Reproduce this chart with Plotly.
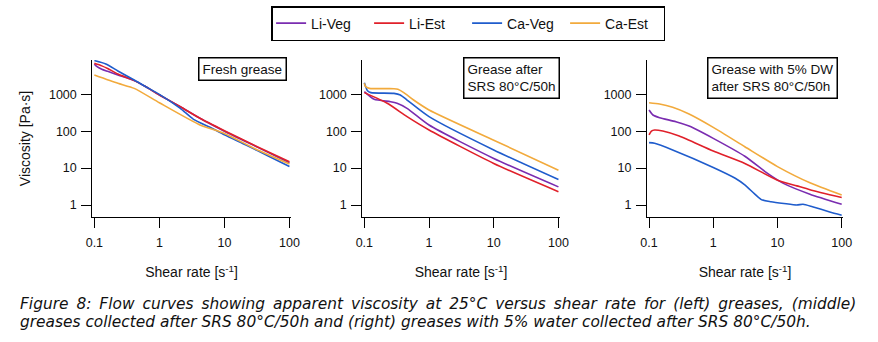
import plotly.graph_objects as go

# ---- series data (shear rate in 1/s, viscosity in Pa·s) ----
series_names = ["Li-Veg", "Li-Est", "Ca-Veg", "Ca-Est"]
series_colors = ["#7a2cb0", "#e0202a", "#1f5ccc", "#f2aa3c"]

# Fresh grease
fresh_liveg_x = [0.1, 0.11, 0.13, 0.16, 0.23, 0.41, 0.6, 1, 2.1, 4.2, 10, 32, 100]
fresh_liveg_y = [6600, 5600, 4800, 4200, 3350, 2350, 1650, 960, 460, 224, 100, 37, 14.0]
fresh_liest_x = [0.1, 0.13, 0.16, 0.23, 0.41, 0.6, 1, 2.1, 4.2, 10, 32, 100]
fresh_liest_y = [6900, 5900, 5000, 3550, 2350, 1650, 960, 460, 224, 103, 38, 14.8]
fresh_caveg_x = [0.1, 0.15, 0.23, 0.41, 0.6, 1, 2.1, 3.35, 6, 10, 21.5, 48, 100]
fresh_caveg_y = [8200, 6600, 4300, 2450, 1650, 1000, 415, 210, 128, 80, 42, 21, 11]
fresh_caest_x = [0.1, 0.23, 0.41, 1, 4.2, 10, 30, 100]
fresh_caest_y = [3340, 1990, 1450, 590, 148, 87, 33, 12.9]

# Grease after SRS 80°C/50h
srs_liveg_x = [0.1, 0.142, 0.255, 0.32, 0.457, 1, 10, 100]
srs_liveg_y = [1180, 730, 630, 570, 417, 147, 18.3, 3.1]
srs_liest_x = [0.1, 0.226, 0.457, 1, 10, 100]
srs_liest_y = [1110, 570, 248, 108, 13.4, 2.3]
srs_caveg_x = [0.1, 0.112, 0.126, 0.287, 0.36, 0.457, 1, 10, 100]
srs_caveg_y = [2070, 1250, 1110, 1060, 960, 700, 248, 31, 4.9]
srs_caest_x = [0.1, 0.104, 0.12, 0.287, 0.33, 0.407, 0.577, 1, 10, 100]
srs_caest_y = [1990, 1620, 1450, 1420, 1370, 1110, 700, 376, 57, 8.8]

# Grease with 5% DW after SRS 80°C/50h
dw_liveg_x = [0.1, 0.115, 0.146, 0.262, 0.42, 0.5, 1, 3.1, 7, 12.6, 32, 100]
dw_liveg_y = [375, 275, 232, 181, 138, 120, 64, 21, 7.2, 3.8, 1.97, 1.05]
dw_liest_x = [0.1, 0.109, 0.122, 0.164, 0.295, 1, 3.1, 10, 20, 32, 100]
dw_liest_y = [79, 101, 108, 101, 74, 29, 13.4, 4.7, 3.3, 2.6, 1.59]
dw_caveg_x = [0.1, 0.122, 0.233, 1, 2.2, 3.1, 4.4, 5.6, 7.9, 12.6, 20, 25, 35, 65, 100]
dw_caveg_y = [49, 47, 31, 10.4, 5.3, 3.5, 2.0, 1.4, 1.23, 1.1, 1.0, 1.05, 0.9, 0.65, 0.53]
dw_caest_x = [0.1, 0.146, 0.233, 0.42, 1, 3.1, 10, 32, 100]
dw_caest_y = [590, 545, 444, 292, 127, 38, 11, 4.0, 1.87]

panels = [
    [(fresh_liveg_x, fresh_liveg_y), (fresh_liest_x, fresh_liest_y),
     (fresh_caveg_x, fresh_caveg_y), (fresh_caest_x, fresh_caest_y)],
    [(srs_liveg_x, srs_liveg_y), (srs_liest_x, srs_liest_y),
     (srs_caveg_x, srs_caveg_y), (srs_caest_x, srs_caest_y)],
    [(dw_liveg_x, dw_liveg_y), (dw_liest_x, dw_liest_y),
     (dw_caveg_x, dw_caveg_y), (dw_caest_x, dw_caest_y)],
]
panel_labels = ["Fresh grease", "Grease after<br>SRS 80°C/50h",
                "Grease with 5% DW<br>after SRS 80°C/50h"]

x_ticks = [0.1, 1, 10, 100]
x_ticktext = ["0.1", "1", "10", "100"]
y_ticks = [1, 10, 100, 1000]
y_ticktext = ["1", "10", "100", "1000"]

caption_line1 = ("Figure 8: Flow curves showing apparent viscosity at 25°C versus shear "
                 "rate for (left) greases, (middle)")
caption_line2 = ("greases collected after SRS 80°C/50h and (right) greases with 5% water "
                 "collected after SRS 80°C/50h.")

# ---- layout geometry (pixels) ----
W, H = 878, 342
x_domains_px = [(87, 289), (362, 563), (652, 851.5)]
y_top_px, y_bot_px = 60, 217
label_boxes_px = [(195, 57), (464, 57), (713, 57)]

FONT = "Liberation Sans, Arial, sans-serif"
CAPTION_FONT = "DejaVu Sans, Verdana, sans-serif"

fig = go.Figure()

for p, curves in enumerate(panels):
    suffix = "" if p == 0 else str(p + 1)
    for i, (xs, ys) in enumerate(curves):
        fig.add_trace(go.Scatter(
            x=xs, y=ys, mode="lines", name=series_names[i],
            line=dict(color=series_colors[i], width=1.6, shape="spline", smoothing=0.6),
            xaxis="x" + suffix, yaxis="y" + suffix,
            legendgroup=series_names[i], showlegend=(p == 0),
        ))

axis_common = dict(
    type="log", showline=True, linecolor="black", linewidth=1.3,
    ticks="outside", ticklen=10, tickwidth=1.3, tickcolor="black",
    showgrid=False, zeroline=False,
    tickfont=dict(family=FONT, size=12.5, color="#111"),
)

layout = dict(
    width=W, height=H, margin=dict(l=0, r=0, t=0, b=0),
    paper_bgcolor="white", plot_bgcolor="white",
    font=dict(family=FONT, color="#111"),
    showlegend=True,
    legend=dict(
        orientation="h", x=269 / W, y=1 - 6 / H, xanchor="left", yanchor="top",
        bordercolor="black", borderwidth=1.5, bgcolor="white",
        font=dict(family=FONT, size=14, color="#111"),
        entrywidth=53, entrywidthmode="pixels", itemwidth=30,
        tracegroupgap=0,
    ),
    annotations=[],
)

for p in range(3):
    suffix = "" if p == 0 else str(p + 1)
    x0, x1 = x_domains_px[p]
    xa = dict(axis_common)
    xa.update(
        domain=[x0 / W, x1 / W], range=[-1.03, 2.02],
        tickvals=x_ticks, ticktext=x_ticktext, anchor="y" + suffix,
        ticklabelstandoff=4,
        title=dict(text="Shear rate [s<sup>-1</sup>]", standoff=18,
                   font=dict(family=FONT, size=14, color="#111")),
    )
    ya = dict(axis_common)
    ya.update(
        domain=[1 - y_bot_px / H, 1 - y_top_px / H], range=[-0.325, 3.93],
        tickvals=y_ticks, ticktext=y_ticktext, anchor="x" + suffix,
        ticklabelstandoff=2,
    )
    if p == 0:
        ya["title"] = dict(text="Viscosity [Pa·s]", standoff=15,
                           font=dict(family=FONT, size=14, color="#111"))
    layout["xaxis" + suffix] = xa
    layout["yaxis" + suffix] = ya

    bx, by = label_boxes_px[p]
    layout["annotations"].append(dict(
        text=panel_labels[p], xref="paper", yref="paper",
        x=bx / W, y=1 - by / H, xanchor="left", yanchor="top", align="left",
        showarrow=False, bordercolor="black", borderwidth=1.5, borderpad=3,
        bgcolor="white", font=dict(family=FONT, size=13.5, color="#111"),
    ))

# Caption: first line is set justified (evenly widened word gaps), second line is ragged
line1_justified = " &#8201;".join(caption_line1.split(" "))
for text, yc in [(line1_justified, 304), (caption_line2, 321.5)]:
    layout["annotations"].append(dict(
        text="<i>" + text + "</i>", xref="paper", yref="paper",
        x=11 / W, y=1 - yc / H, xanchor="left", yanchor="middle",
        showarrow=False, font=dict(family=CAPTION_FONT, size=15.4, color="#111"),
    ))

fig.update_layout(**layout)
fig.write_html("out.html")
